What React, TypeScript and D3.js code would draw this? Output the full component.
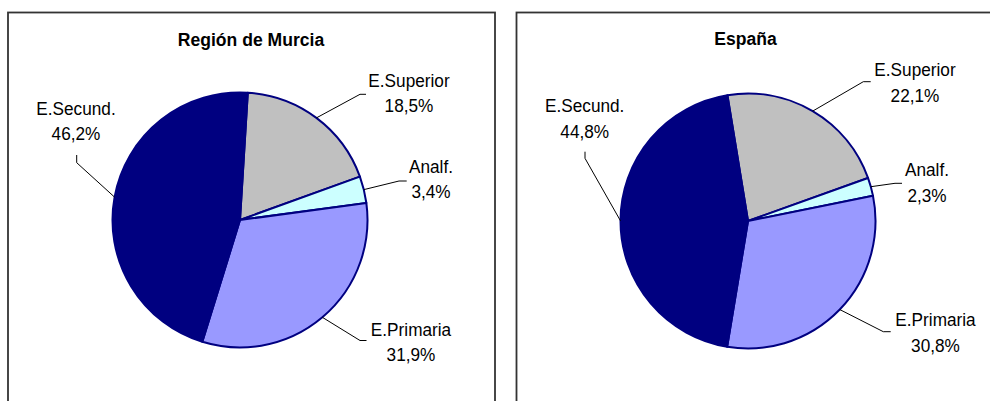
import React from "react";
import * as d3 from "d3";

const categories = ["E.Superior", "Analf.", "E.Primaria", "E.Secund."];
const murciaValues = [18.5, 3.4, 31.9, 46.2];
const espanaValues = [22.1, 2.3, 30.8, 44.8];
const titles = ["Región de Murcia", "España"];
const sliceColors = ["#C0C0C0", "#CCFFFF", "#9999FF", "#000080"];

type Pt = [number, number];
interface PanelLayout {
  frame: { x: number; y: number; w: number; h: number };
  titleX: number;
  titleY: number;
  cx: number;
  cy: number;
  r: number;
  startDeg: number;
  lineGap: number;
  labels: Pt[];
  elbows: Pt[];
  ends: Pt[];
}

const layouts: PanelLayout[] = [
  {
    frame: { x: 8, y: 12.5, w: 487, h: 420 },
    titleX: 251,
    titleY: 46,
    cx: 240,
    cy: 220,
    r: 127.5,
    startDeg: 3.5,
    lineGap: 25.5,
    labels: [[409, 86.5], [431, 172.5], [411, 335.5], [76, 115]],
    elbows: [[360, 94.3], [399, 181], [360, 340.5], [76.7, 162.7]],
    ends: [[366, 94.3], [406.7, 181], [366.5, 340.5], [76.7, 155]],
  },
  {
    frame: { x: 516.5, y: 12.5, w: 500, h: 420 },
    titleX: 745.5,
    titleY: 45,
    cx: 748,
    cy: 221,
    r: 127.5,
    startDeg: -9.3,
    lineGap: 26.5,
    labels: [[915, 75.5], [927, 176], [935.5, 326], [584.7, 112]],
    elbows: [[863.3, 81.7], [895, 183.3], [883.3, 331.7], [585, 158.3]],
    ends: [[870.7, 81.7], [902, 183.3], [890.7, 331.7], [585, 151.7]],
  },
];

const fmt = (v: number) => v.toFixed(1).replace(".", ",") + "%";
const FONT = "'Liberation Sans', Arial, sans-serif";

function Panel({ values, title, L }: { values: number[]; title: string; L: PanelLayout }) {
  const start = (L.startDeg * Math.PI) / 180;
  const pie = d3
    .pie<number>()
    .sort(null)
    .value((d) => d)
    .startAngle(start)
    .endAngle(start + 2 * Math.PI);
  const arcs = pie(values);
  const arcGen = d3.arc<d3.PieArcDatum<number>>().innerRadius(0).outerRadius(L.r);
  const line = d3.line();

  return (
    <g>
      <rect
        x={L.frame.x}
        y={L.frame.y}
        width={L.frame.w}
        height={L.frame.h}
        fill="#fff"
        stroke="#333"
        strokeWidth={1.8}
      />
      <text
        transform={`translate(${L.titleX},${L.titleY}) scale(0.95,1)`}
        textAnchor="middle"
        fontFamily={FONT}
        fontWeight="bold"
        fontSize={18.5}
        fill="#000"
      >
        {title}
      </text>
      <g transform={`translate(${L.cx},${L.cy})`}>
        {arcs.map((a, i) => (
          <path
            key={i}
            d={arcGen(a) || ""}
            fill={sliceColors[i]}
            stroke="#000080"
            strokeWidth={2}
            strokeLinejoin="round"
          />
        ))}
      </g>
      {arcs.map((a, i) => {
        const mid = (a.startAngle + a.endAngle) / 2;
        const p0: Pt = [L.cx + L.r * Math.sin(mid), L.cy - L.r * Math.cos(mid)];
        return (
          <path
            key={"l" + i}
            d={line([p0, L.elbows[i], L.ends[i]]) || ""}
            fill="none"
            stroke="#000"
            strokeWidth={1}
          />
        );
      })}
      {arcs.map((a, i) => (
        <text
          key={"t" + i}
          transform={`translate(${L.labels[i][0]},${L.labels[i][1]}) scale(0.93,1)`}
          textAnchor="middle"
          fontFamily={FONT}
          fontSize={18.5}
          fill="#000"
        >
          <tspan x={0} y={0}>
            {categories[i]}
          </tspan>
          <tspan x={0} y={L.lineGap}>
            {fmt(values[i])}
          </tspan>
        </text>
      ))}
    </g>
  );
}

export default function App() {
  const datasets = [murciaValues, espanaValues];
  return (
    <svg
      width={990}
      height={401}
      style={{ position: "absolute", left: 0, top: 0, background: "#fff" }}
    >
      <rect x={0} y={0} width={990} height={401} fill="#fff" />
      {datasets.map((vals, k) => (
        <Panel key={k} values={vals} title={titles[k]} L={layouts[k]} />
      ))}
    </svg>
  );
}
